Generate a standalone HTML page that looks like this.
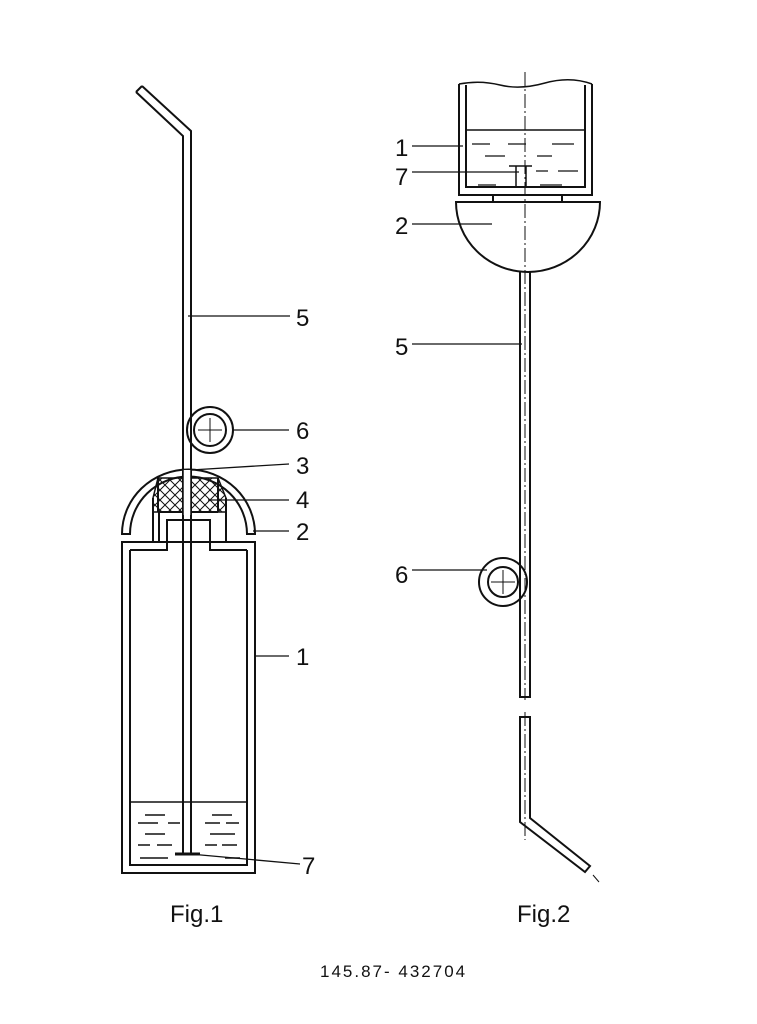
<!DOCTYPE html>
<html><head><meta charset="utf-8"><style>
html,body{margin:0;padding:0;background:#fff;}
svg{display:block}
text{font-family:"Liberation Sans",sans-serif;fill:#111}
</style></head><body>
<svg width="757" height="1024" viewBox="0 0 757 1024" xmlns="http://www.w3.org/2000/svg">
<g fill="none" stroke="#111" stroke-width="2">
<!-- Fig1 tube -->
<path d="M136,92 L183,136 L183,855"/>
<path d="M142,86 L191,131 L191,855"/>
<path d="M136,92 L142,86"/>
<!-- coil 6 -->
<circle cx="210" cy="430" r="23"/>
<circle cx="210" cy="430" r="16"/>
<line x1="198" y1="430" x2="222" y2="430" stroke-width="1"/>
<line x1="210" y1="418" x2="210" y2="442" stroke-width="1"/>
<!-- cap 2 -->
<path d="M122,534 A66,64 0 0 1 255,534 L247,534 A58,57 0 0 0 130,534 Z"/>
<path d="M153,534 L153,498 M226,534 L226,498" />
<path d="M158,512 L218,512 M158,512 L158,478 M218,512 L218,478"/>
<!-- neck -->
<path d="M122,542 L159,542 L159,512 M226,542 L255,542"/>
<path d="M130,550 L167,550 L167,520 L210,520 L210,550 L247,550"/>
<path d="M153,534 L153,542 M226,534 L226,542"/>
<!-- container 1 -->
<rect x="122" y="542" width="133" height="331"/>
<path d="M130,550 L130,865 L247,865 L247,550"/>
<line x1="130" y1="802" x2="247" y2="802" stroke-width="1.5"/>
<line x1="175" y1="854" x2="200" y2="854" stroke-width="3"/>
</g>
<!-- crosshatch 4 -->
<defs><pattern id="h" width="10" height="10" patternUnits="userSpaceOnUse"><path d="M0,0 L10,10 M10,0 L0,10" stroke="#111" stroke-width="1"/></pattern></defs>
<path d="M158,478 L218,478 L226,498 L226,512 L153,512 L153,498 Z" fill="url(#h)" stroke="#111" stroke-width="1.5"/>
<rect x="183" y="470" width="8" height="45" fill="#fff"/>
<g stroke="#111" stroke-width="1.5">
<line x1="183" y1="470" x2="183" y2="515"/><line x1="191" y1="470" x2="191" y2="515"/>
<!-- liquid dashes fig1 -->
<path d="M145,815h20M138,823h20M168,823h12M145,834h20M138,845h12M157,845h15M140,858h28M212,815h20M205,823h15M226,823h13M210,834h25M205,845h12M222,845h15M225,858h15"/>
<!-- leaders fig1 -->
<path d="M188,316 L290,316 M233,430 L289,430 M191,470 L289,464 M208,500 L289,500 M253,531 L289,531 M255,656 L289,656 M190,854 L300,864" stroke-width="1.3"/>
</g>
<g font-size="24">
<text x="296" y="326">5</text><text x="296" y="439">6</text><text x="296" y="474">3</text>
<text x="296" y="508">4</text><text x="296" y="540">2</text><text x="296" y="665">1</text>
<text x="302" y="874">7</text>
<text x="170" y="922">Fig.1</text><text x="517" y="922">Fig.2</text>
<text x="395" y="156">1</text><text x="395" y="185">7</text><text x="395" y="234">2</text>
<text x="395" y="355">5</text><text x="395" y="583">6</text>
</g>
<text x="320" y="977" font-size="17" letter-spacing="2" fill="#444">145.87- 432704</text>
<!-- Fig2 -->
<g fill="none" stroke="#111" stroke-width="2">
<path d="M459,84 L459,195 L592,195 L592,84"/>
<path d="M466,85 L466,187 L585,187 L585,85"/>
<path d="M459,84 Q480,80 500,85 T545,83 T592,84" stroke-width="1.5"/>
<line x1="466" y1="130" x2="585" y2="130" stroke-width="1.5"/>
<path d="M493,196 L493,201 M562,196 L562,201"/>
<path d="M456,202 L600,202 A72,70 0 0 1 456,202 Z"/>
<path d="M520,272 L520,697 L530,697 L530,272"/>
<path d="M520,717 L530,717 L530,818 L590,866 L585,872 L520,822 Z"/>
<circle cx="503" cy="582" r="24"/><circle cx="503" cy="582" r="15"/>
<path d="M509,166 h23 M516,166 v20 M526,166 v20" stroke-width="1.5"/>
</g>
<g stroke="#111" stroke-width="1">
<path d="M525,72 L525,700 M525,712 L525,840" stroke-dasharray="14,3,2,3"/>
<path d="M491,582h24M503,570v24"/>
<path d="M593,875 L599,882"/>
</g>
<g stroke="#111" stroke-width="1.3">
<path d="M472,144h18M508,144h18M552,144h22M485,156h20M537,156h15M478,185h18M536,171h12M540,185h22M558,171h20"/>
<path d="M412,146 L463,146 M412,172 L519,172 M412,224 L492,224 M412,344 L522,344 M412,570 L487,570"/>
</g>
</svg>
</body></html>
